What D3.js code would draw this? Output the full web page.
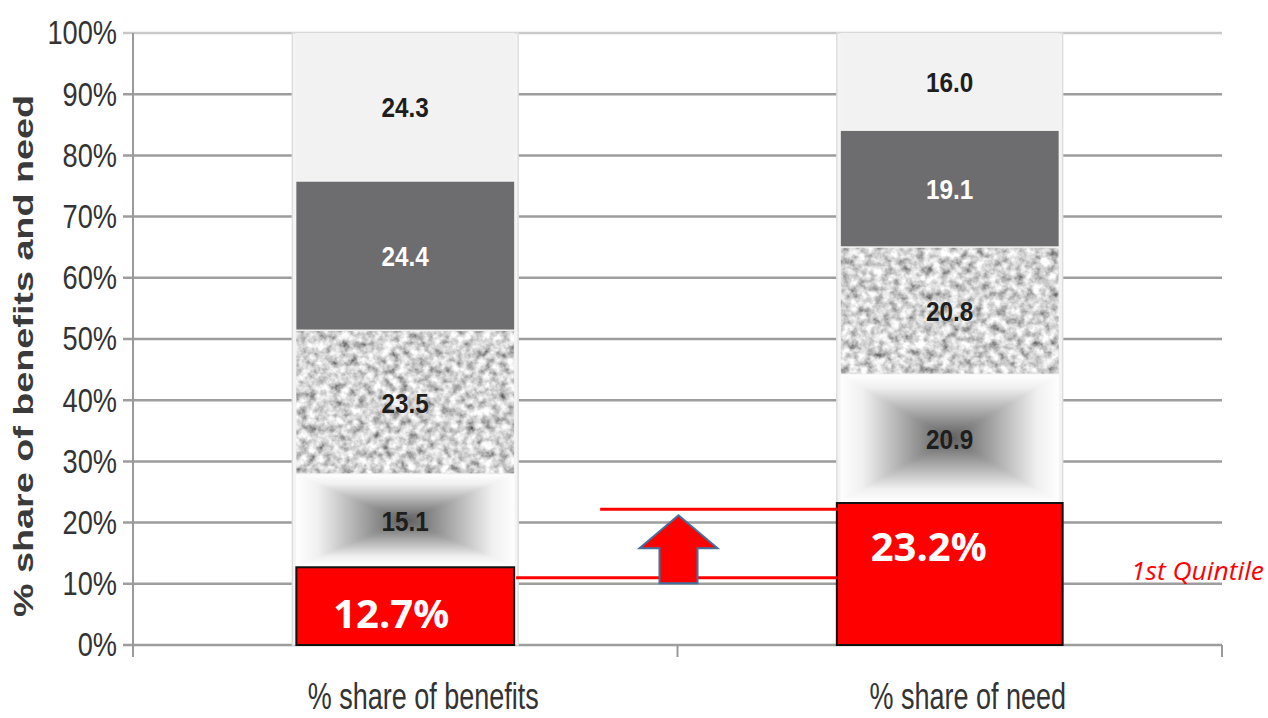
<!DOCTYPE html>
<html>
<head>
<meta charset="utf-8">
<script src="https://cdn.jsdelivr.net/npm/d3@7"></script>
<style>
  body { margin: 0; background: #fff; }
  svg { display: block; }
</style>
</head>
<body>
<script>
// chart data
var categories = ["% share of benefits", "% share of need"];
var quintiles = ["1st Quintile", "2nd Quintile", "3rd Quintile", "4th Quintile", "5th Quintile"];
var benefits = [12.7, 15.1, 23.5, 24.4, 24.3];
var need = [23.2, 20.9, 20.8, 19.1, 16.0];
var yTicks = [0, 10, 20, 30, 40, 50, 60, 70, 80, 90, 100];
var highlightLabels = ["12.7%", "23.2%"];
// red guide lines (value levels) and the arrow (base, head base, tip)
var guideLevels = [11.0, 22.2];
var arrowLevels = [10.1, 15.8, 21.2];

var width = 1268, height = 718;
var plotLeft = 133, plotRight = 1222, gridLeft = 123;
var narrow = 0.8; // horizontal squeeze to mimic a narrow face

var svg = d3.select("body").append("svg")
    .attr("width", width)
    .attr("height", height);

var defs = svg.append("defs");

// mottled texture for the 3rd quintile
var noise = defs.append("filter").attr("id", "noise")
    .attr("x", 0).attr("y", 0).attr("width", 1).attr("height", 1);
noise.append("feTurbulence")
    .attr("type", "fractalNoise")
    .attr("baseFrequency", 0.12)
    .attr("numOctaves", 3)
    .attr("seed", 7)
    .attr("result", "t");
noise.append("feColorMatrix")
    .attr("in", "t")
    .attr("type", "matrix")
    .attr("values", "1.4 0 0 0 -0.04  1.4 0 0 0 -0.04  1.4 0 0 0 -0.04  0 0 0 0 1")
    .attr("result", "g");
noise.append("feGaussianBlur").attr("in", "g").attr("stdDeviation", 0.6).attr("result", "b");
noise.append("feComposite").attr("in", "b").attr("in2", "SourceGraphic").attr("operator", "in");

// rectangular path gradient for the 2nd quintile, built from four triangles
var triGrads = { T: [0, 0, 0, 1], B: [0, 1, 0, 0], L: [0, 0, 1, 0], R: [1, 0, 0, 0] };
Object.keys(triGrads).forEach(function (k) {
    var v = triGrads[k];
    var lg = defs.append("linearGradient").attr("id", "tri" + k)
        .attr("x1", v[0]).attr("y1", v[1]).attr("x2", v[2]).attr("y2", v[3]);
    lg.append("stop").attr("offset", 0).attr("stop-color", "#fefefe");
    lg.append("stop").attr("offset", 0.2).attr("stop-color", "#f0f0f0");
    lg.append("stop").attr("offset", 1).attr("stop-color", "#5c5c5c");
});

var y = d3.scaleLinear().domain([0, 100]).range([645, 33]);

var x = d3.scaleBand()
    .domain(categories)
    .range([plotLeft, plotRight])
    .padding(0);

var barW = x.bandwidth() * 0.4;
function barX(c) { return x(c) + x.bandwidth() / 2 - barW / 2; }

// gridlines
svg.append("g").selectAll("line")
    .data(yTicks)
    .join("line")
    .attr("x1", gridLeft)
    .attr("x2", plotRight)
    .attr("y1", d => y(d))
    .attr("y2", d => y(d))
    .attr("stroke", d => d == 100 ? "#c9c9c9" : "#9d9d9d")
    .attr("stroke-width", 2.5);

// vertical axis line
svg.append("line")
    .attr("x1", plotLeft).attr("x2", plotLeft)
    .attr("y1", y(100)).attr("y2", y(0) + 12)
    .attr("stroke", "#9a9a9a").attr("stroke-width", 2);

// bottom ticks
svg.append("g").selectAll("line")
    .data([x(categories[1]), plotRight])
    .join("line")
    .attr("x1", d => d).attr("x2", d => d)
    .attr("y1", y(0)).attr("y2", y(0) + 12)
    .attr("stroke", "#9a9a9a").attr("stroke-width", 2);

// y axis labels
var yAxis = svg.append("g")
    .attr("transform", "translate(" + plotLeft + ",0)")
    .call(d3.axisLeft(y).tickValues(yTicks).tickFormat(d => d + "%").tickSize(0).tickPadding(16));
yAxis.select(".domain").remove();
yAxis.selectAll("text")
    .attr("x", -16 / narrow)
    .attr("transform", "scale(" + narrow + ",1)")
    .style("font-family", "'Liberation Sans', Arial, sans-serif")
    .style("font-size", "34px")
    .attr("fill", "#333");

// y axis title
svg.append("text")
    .attr("transform", "translate(33," + ((95 + 617) / 2) + ") rotate(-90)")
    .attr("text-anchor", "middle")
    .attr("textLength", 522)
    .attr("lengthAdjust", "spacingAndGlyphs")
    .style("font-family", "'Liberation Sans', Arial, sans-serif")
    .style("font-weight", "bold")
    .style("font-size", "28px")
    .attr("fill", "#3a3a3a")
    .text("% share of benefits and need");

// x labels
var xs = 0.75;
svg.append("g").selectAll("text")
    .data(categories)
    .join("text")
    .attr("x", d => (x(d) + x.bandwidth() / 2 + 18) / xs)
    .attr("y", 709)
    .attr("transform", "scale(" + xs + ",1)")
    .attr("text-anchor", "middle")
    .style("font-family", "'Liberation Sans', Arial, sans-serif")
    .style("font-size", "36px")
    .attr("fill", "#333")
    .text(d => d);

// stacked bars
var fills = [null, "none", "#b0b0b0", "#6d6d6f", "#f2f2f2"];
var labelColors = [null, "#1e1e1e", "#1e1e1e", "#fff", "#1e1e1e"];
var seriesByCat = [benefits, need];

categories.forEach(function (c, ci) {
    var vals = seriesByCat[ci];
    var g = svg.append("g");
    // column backdrop
    g.append("rect")
        .attr("x", barX(c) - 4)
        .attr("y", y(100))
        .attr("width", barW + 8)
        .attr("height", y(0) - y(100))
        .attr("fill", "#f4f4f4")
        .attr("stroke", "#dedede")
        .attr("stroke-width", 1.5);

    var stack = [];
    var acc = 0;
    vals.forEach(function (v, i) {
        stack.push({ i: i, y0: acc, y1: acc + v, v: v });
        acc += v;
    });

    var segs = stack.slice(1);
    g.selectAll("rect.seg")
        .data(segs.filter(d => d.i != 1))
        .join("rect")
        .attr("class", "seg")
        .attr("x", barX(c))
        .attr("y", d => y(d.y1))
        .attr("width", barW)
        .attr("height", d => y(d.y0) - y(d.y1) - 1.5)
        .attr("fill", d => fills[d.i])
        .attr("filter", d => d.i == 2 ? "url(#noise)" : null);

    // gradient segment as four triangles meeting at the centre
    var gs = stack[1];
    var x0 = barX(c), x1 = barX(c) + barW;
    var t = y(gs.y1), b = y(gs.y0) - 1.5;
    var cx = (x0 + x1) / 2, cy = (t + b) / 2;
    var tris = [
        ["T", [[x0, t], [x1, t], [cx, cy]]],
        ["B", [[x0, b], [x1, b], [cx, cy]]],
        ["L", [[x0, t], [x0, b], [cx, cy]]],
        ["R", [[x1, t], [x1, b], [cx, cy]]]
    ];
    g.selectAll("path.tri")
        .data(tris)
        .join("path")
        .attr("class", "tri")
        .attr("d", d => d3.line()(d[1]) + "Z")
        .attr("fill", d => "url(#tri" + d[0] + ")")
        .attr("stroke", d => "url(#tri" + d[0] + ")")
        .attr("stroke-width", 0.6);

    var ls = 0.9;
    g.selectAll("text.seg")
        .data(segs)
        .join("text")
        .attr("class", "seg")
        .attr("x", (barX(c) + barW / 2) / ls)
        .attr("y", d => y((d.y0 + d.y1) / 2))
        .attr("dy", "0.36em")
        .attr("transform", "scale(" + ls + ",1)")
        .attr("text-anchor", "middle")
        .style("font-family", "'Liberation Sans', Arial, sans-serif")
        .style("font-weight", "bold")
        .style("font-size", "27px")
        .attr("fill", d => labelColors[d.i])
        .text(d => d.v.toFixed(1));

    // first quintile highlight box
    var first = stack[0];
    var extra = ci == 1 ? 4 : 0;
    g.append("rect")
        .attr("x", barX(c) - extra)
        .attr("y", y(first.y1))
        .attr("width", barW + extra * 2)
        .attr("height", y(0) - y(first.y1))
        .attr("fill", "#ff0000")
        .attr("stroke", "#111")
        .attr("stroke-width", 2);
});

// red guide lines
var bar1Right = barX(categories[0]) + barW;
var box2Left = barX(categories[1]) - 4;
svg.append("line")
    .attr("x1", bar1Right + 2).attr("x2", box2Left)
    .attr("y1", y(guideLevels[0])).attr("y2", y(guideLevels[0]))
    .attr("stroke", "#ff0000").attr("stroke-width", 3);
svg.append("line")
    .attr("x1", bar1Right + 86).attr("x2", box2Left)
    .attr("y1", y(guideLevels[1])).attr("y2", y(guideLevels[1]))
    .attr("stroke", "#ff0000").attr("stroke-width", 3);

// up arrow
var ax = x(categories[1]) + 1;
var shaftHalf = 19, headHalf = 39;
var arrowPts = [
    [ax - shaftHalf, y(arrowLevels[0])],
    [ax - shaftHalf, y(arrowLevels[1])],
    [ax - headHalf, y(arrowLevels[1])],
    [ax, y(arrowLevels[2])],
    [ax + headHalf, y(arrowLevels[1])],
    [ax + shaftHalf, y(arrowLevels[1])],
    [ax + shaftHalf, y(arrowLevels[0])]
];
svg.append("path")
    .attr("d", d3.line()(arrowPts) + "Z")
    .attr("fill", "#ff0000")
    .attr("stroke", "#41719c")
    .attr("stroke-width", 2)
    .attr("stroke-linejoin", "miter");

// highlight labels
svg.append("text")
    .attr("x", barX(categories[0]) + barW / 2 - 14)
    .attr("y", 628)
    .attr("text-anchor", "middle")
    .style("font-family", "'Open Sans', sans-serif")
    .style("font-weight", "bold")
    .style("font-size", "40px")
    .attr("fill", "#fff")
    .text(highlightLabels[0]);
svg.append("text")
    .attr("x", barX(categories[1]) + barW / 2 - 21)
    .attr("y", 561)
    .attr("text-anchor", "middle")
    .style("font-family", "'Open Sans', sans-serif")
    .style("font-weight", "bold")
    .style("font-size", "40px")
    .attr("fill", "#fff")
    .text(highlightLabels[1]);

// series tag
svg.append("text")
    .attr("x", 1264)
    .attr("y", 580)
    .attr("text-anchor", "end")
    .attr("textLength", 133)
    .attr("lengthAdjust", "spacingAndGlyphs")
    .style("font-family", "'Open Sans', sans-serif")
    .style("font-style", "italic")
    .style("font-size", "25px")
    .attr("fill", "#ff0000")
    .text(quintiles[0]);
</script>
</body>
</html>
